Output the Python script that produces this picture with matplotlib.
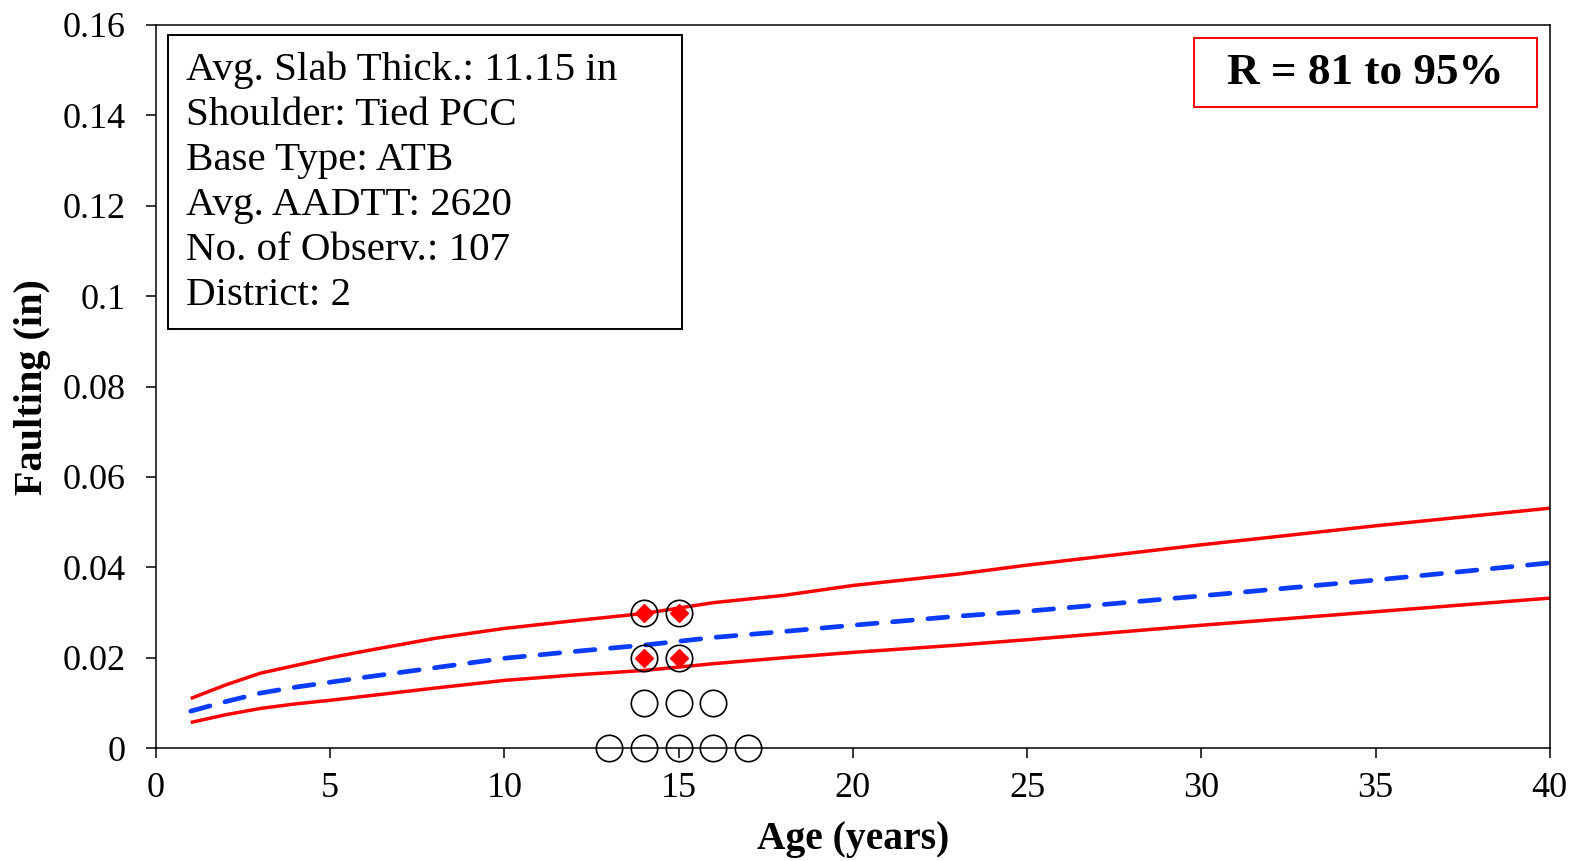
import matplotlib
matplotlib.use('Agg')
from matplotlib import pyplot as plt
from matplotlib.patches import Rectangle

# predicted faulting curves (upper / lower limits and mean)
ages = [1, 2, 3, 4, 5, 6, 8, 10, 12, 14, 16, 18, 20, 23, 25, 30, 35, 40]
upper = [0.0110, 0.0140, 0.0166, 0.0183, 0.0200, 0.0215, 0.0243, 0.0265, 0.0282,
         0.0298, 0.0322, 0.0338, 0.0360, 0.0385, 0.0405, 0.0450, 0.0492, 0.0531]
lower = [0.0057, 0.0074, 0.0088, 0.0098, 0.0106, 0.0115, 0.0133, 0.0150, 0.0162,
         0.0172, 0.0187, 0.0200, 0.0212, 0.0228, 0.0240, 0.0272, 0.0302, 0.0332]
mean = [0.0082, 0.0103, 0.0122, 0.0135, 0.0146, 0.0157, 0.0178, 0.0199, 0.0214,
        0.0228, 0.0245, 0.0258, 0.0272, 0.0292, 0.0303, 0.0337, 0.0372, 0.0410]

# measured faulting
obs_age = [13, 14, 15, 16, 17, 14, 15, 16, 14, 15, 14, 15]
obs_fault = [0, 0, 0, 0, 0, 0.01, 0.01, 0.01, 0.02, 0.02, 0.03, 0.03]
# points inside the reliability band
hit_age = [14, 15, 14, 15]
hit_fault = [0.02, 0.02, 0.03, 0.03]

x_ticks = [0, 5, 10, 15, 20, 25, 30, 35, 40]
y_ticks = [0, 0.02, 0.04, 0.06, 0.08, 0.1, 0.12, 0.14, 0.16]
y_labels = ['0', '0.02', '0.04', '0.06', '0.08', '0.1', '0.12', '0.14', '0.16']

info_lines = ['Avg. Slab Thick.: 11.15 in', 'Shoulder: Tied PCC', 'Base Type: ATB',
              'Avg. AADTT: 2620', 'No. of Observ.: 107', 'District: 2']
r_text = 'R = 81 to 95%'

plt.rcParams['font.family'] = ['Liberation Serif', 'DejaVu Serif']

fig = plt.figure(figsize=(15.75, 8.61), dpi=100)
ax = fig.add_axes([0.099, 0.131, 0.885, 0.840])

ax.plot(ages, upper, color='#FF0000', lw=2.5, solid_capstyle='butt')
ax.plot(ages, lower, color='#FF0000', lw=2.5, solid_capstyle='butt')
ax.plot(ages, mean, color='#0A3CFF', lw=3.4, dashes=(4.2, 3.3),
        dash_capstyle='round')

ax.plot(obs_age, obs_fault, ls='none', marker='o', ms=19, mfc='none',
        mec='black', mew=1.2, clip_on=False, zorder=5)
ax.plot(hit_age, hit_fault, ls='none', marker='D', ms=9.5, mfc='#FF0000',
        mec='#FF0000', clip_on=False, zorder=6)

ax.set_xlim(0, 40)
ax.set_ylim(0, 0.16)
ax.set_xticks(x_ticks)
ax.set_xticklabels([str(t) for t in x_ticks])
ax.set_yticks(y_ticks)
ax.set_yticklabels(y_labels)
ax.tick_params(axis='both', direction='out', length=7, width=1.1,
               labelsize=26, colors='black')
ax.tick_params(axis='x', pad=10)
ax.tick_params(axis='y', pad=15)
for s in ax.spines.values():
    s.set_linewidth(1.1)

ax.set_xlabel('Age (years)', fontsize=28.5, fontweight='bold', labelpad=12)
ax.set_ylabel('Faulting (in)', fontsize=29, fontweight='bold', labelpad=8)

# info box
ax.add_patch(Rectangle((0.0086, 0.580), 0.369, 0.406, transform=ax.transAxes,
                       fill=False, ec='black', lw=1.4, zorder=7))
for i, line in enumerate(info_lines):
    ax.text(0.0215, 0.924 - i * 0.0622, line, transform=ax.transAxes,
            fontsize=29.5, va='baseline', ha='left', zorder=8)

# reliability box
ax.add_patch(Rectangle((0.745, 0.887), 0.246, 0.095, transform=ax.transAxes,
                       fill=False, ec='#FF0000', lw=1.4, zorder=7))
ax.text(0.868, 0.934, r_text, transform=ax.transAxes, fontsize=32.5,
        fontweight='bold', ha='center', va='center', zorder=8)

fig.savefig('out.png', dpi=100)
